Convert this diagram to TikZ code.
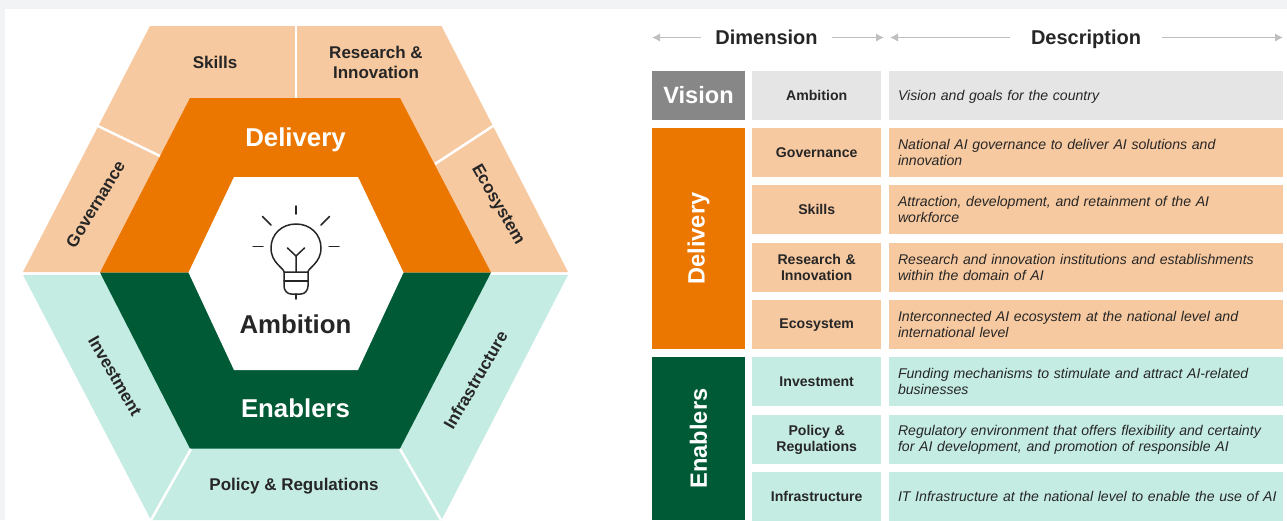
\documentclass[tikz,border=0pt]{standalone}
\usepackage{fontspec}
\setmainfont{Liberation Sans}
\usepackage{tikz}
\usetikzlibrary{arrows.meta}
\definecolor{delivery}{HTML}{EC7700}
\definecolor{deliverylight}{HTML}{F7C9A0}
\definecolor{enablers}{HTML}{005A36}
\definecolor{enablerslight}{HTML}{C5ECE3}
\definecolor{vision}{HTML}{878787}
\definecolor{visionlight}{HTML}{E5E5E5}
\definecolor{page}{HTML}{F1F3F5}
\definecolor{ink}{HTML}{262626}
\newcommand{\rowstrut}{\rule[-2pt]{0pt}{14pt}}
\tikzstyle{headarrow} = [line width=1.6pt,draw=black!25,-{Latex[length=8pt,width=8.5pt]}]
\tikzstyle{headnode} = [font=\fontsize{20}{24}\selectfont\bfseries, text=ink, inner ysep=0pt, text height=14.4pt, text depth=0pt]
\tikzstyle{hexlabel} = [font=\fontsize{17}{20}\selectfont\bfseries, text=ink, align=center, inner sep=0pt]
\tikzstyle{hextitle} = [font=\fontsize{25.8}{30}\selectfont\bfseries, text=white, inner sep=0pt]
\tikzstyle{divider} = [draw=white, line width=2.5pt]
\tikzstyle{bulb} = [draw=ink, line width=1.5pt, line cap=round, line join=round]
\tikzstyle{bandnode} = [text=white, font=\fontsize{23.6}{28}\selectfont\bfseries, inner sep=0pt]
\tikzstyle{dimnode} = [minimum width=129.5pt, minimum height=49pt, text width=120pt, align=center, inner sep=0pt, text=ink, font=\fontsize{14.1}{16}\selectfont\bfseries, execute at begin node=\rowstrut, execute at end node=\rowstrut]
\tikzstyle{descnode} = [minimum width=393.6pt, minimum height=49pt, text width=376pt, align=left, inner sep=0pt, text=ink, font=\fontsize{14.1}{16}\selectfont\itshape, execute at begin node=\rowstrut, execute at end node=\rowstrut]

\begin{document}
\begin{tikzpicture}[x=1pt, y=-1pt, node distance=57.3pt]
      \useasboundingbox (0,0) rectangle (1287,520);
      \fill [page] (0,0) rectangle (1287,520);
      \fill [white] (5,9) rectangle (1287,520);

      \fill [deliverylight] (23,272) -- (150,26) -- (441.5,26) -- (568,272) -- cycle;
      \fill [enablerslight] (23,275) -- (151,520) -- (441.5,520) -- (568,275) -- cycle;
      \fill [delivery] (100,272.5) -- (190,98) -- (400,98) -- (491,272.5) -- cycle;
      \fill [enablers] (100,272.5) -- (190,448.5) -- (400,448.5) -- (491,272.5) -- cycle;
      \fill [white] (188.5,272.5) -- (234,177) -- (358,177) -- (403.5,272.5) -- (358,370) -- (234,370) -- cycle;

      \draw [divider] (296,26) -- (296,98);
      \draw [divider] (98,126) -- (160,156);
      \draw [divider] (493,126) -- (435,164);
      \draw [divider] (191,449) -- (151,520);
      \draw [divider] (400,449) -- (441,520);

      \node (delivery) [hextitle] at (295.5,139.5) {Delivery};
      \node (ambition) [hextitle, text=ink] at (295.5,324) {Ambition};
      \node (enablers) [hextitle] at (295.5,408) {Enablers};
      \node (skills) [hexlabel] at (215,62) {Skills};
      \node (research) [hexlabel] at (376,62.5) {Research \&\\Innovation};
      \node (governance) [hexlabel, rotate=59] at (95.5,204) {Governance};
      \node (ecosystem) [hexlabel, rotate=-60] at (497.5,205) {Ecosystem};
      \node (investment) [hexlabel, rotate=-60] at (115,376) {Investment};
      \node (infrastructure) [hexlabel, rotate=60] at (475.5,380) {Infrastructure};
      \node (policy) [hexlabel] at (294,486) {Policy \& Regulations};

      \draw [bulb] (284,272) .. controls (284,268) and (271,263) .. (271,248) .. controls (271,234) and (282,224) .. (296,224) .. controls (310,224) and (321,234) .. (321,248) .. controls (321,263) and (308,268) .. (308,272);
      \draw [bulb] (284,272) -- (308,272) -- (308,286) .. controls (308,290) and (305,294) .. (301,294) -- (291,294) .. controls (287,294) and (284,290) .. (284,286) -- cycle;
      \draw [bulb] (284,281) -- (308,281);
      \draw [bulb] (296,272) -- (296,256) -- (287.5,248);
      \draw [bulb] (296,256) -- (304.5,248);
      \draw [bulb] (296,294) -- (296,299);
      \draw [bulb] (296,206) -- (296,214);
      \draw [bulb] (262.5,216.5) -- (271,225);
      \draw [bulb] (329.5,216.5) -- (321,225);
      \draw [bulb] (253,246.5) -- (263,246.5);
      \draw [bulb] (329,246.5) -- (339,246.5);

      \node (dimension) [headnode, inner xsep=14pt] at (766.5,37) {Dimension};
      \node (description) [headnode, inner xsep=20.5pt] at (1086,37) {Description};
      \coordinate (dimleft) at (652,37.5);
      \coordinate (dimright) at (884,37.5);
      \coordinate (descleft) at (890,37.5);
      \coordinate (descright) at (1283,37.5);
      \draw [headarrow] (dimension.west |- dimleft) -- (dimleft);
      \draw [headarrow] (dimension.east |- dimright) -- (dimright);
      \draw [headarrow] (description.west |- descleft) -- (descleft);
      \draw [headarrow] (description.east |- descright) -- (descright);

      \node (visionband) [bandnode, fill=vision, minimum width=93pt, minimum height=49pt] at (698.5,95.5) {Vision};
      \node (deliveryband) [bandnode, fill=delivery, minimum width=221pt, minimum height=93pt, rotate=90] at (698.5,238.5) {Delivery};
      \node (enablersband) [bandnode, fill=enablers, minimum width=163pt, minimum height=93pt, rotate=90] at (698.5,438.5) {Enablers};

      \node (dim0) [dimnode, fill=visionlight] at (816.7,95.5) {Ambition};
      \node (desc0) [descnode, fill=visionlight] at (1086,95.5) {Vision and goals for the country};
      \node (dim1) [dimnode, fill=deliverylight] at (816.7,152.5) {Governance};
      \node (dim2) [dimnode, fill=deliverylight, below of=dim1] {Skills};
      \node (dim3) [dimnode, fill=deliverylight, below of=dim2] {Research \&\\Innovation};
      \node (dim4) [dimnode, fill=deliverylight, below of=dim3] {Ecosystem};
      \node (dim5) [dimnode, fill=enablerslight, below of=dim4] {Investment};
      \node (dim6) [dimnode, fill=enablerslight, below of=dim5] {Policy \&\\Regulations};
      \node (dim7) [dimnode, fill=enablerslight, below of=dim6] {Infrastructure};
      \node (desc1) [descnode, fill=deliverylight] at (1086,152.5) {National AI governance to deliver AI solutions and\\innovation};
      \node (desc2) [descnode, fill=deliverylight, below of=desc1] {Attraction, development, and retainment of the AI\\workforce};
      \node (desc3) [descnode, fill=deliverylight, below of=desc2] {Research and innovation institutions and establishments\\within the domain of AI};
      \node (desc4) [descnode, fill=deliverylight, below of=desc3] {Interconnected AI ecosystem at the national level and\\international level};
      \node (desc5) [descnode, fill=enablerslight, below of=desc4] {Funding mechanisms to stimulate and attract AI-related\\businesses};
      \node (desc6) [descnode, fill=enablerslight, below of=desc5] {Regulatory environment that offers flexibility and certainty\\for AI development, and promotion of responsible AI};
      \node (desc7) [descnode, fill=enablerslight, below of=desc6] {\mbox{IT Infrastructure at the national level to enable the use of AI}};
    \end{tikzpicture}
\end{document}
